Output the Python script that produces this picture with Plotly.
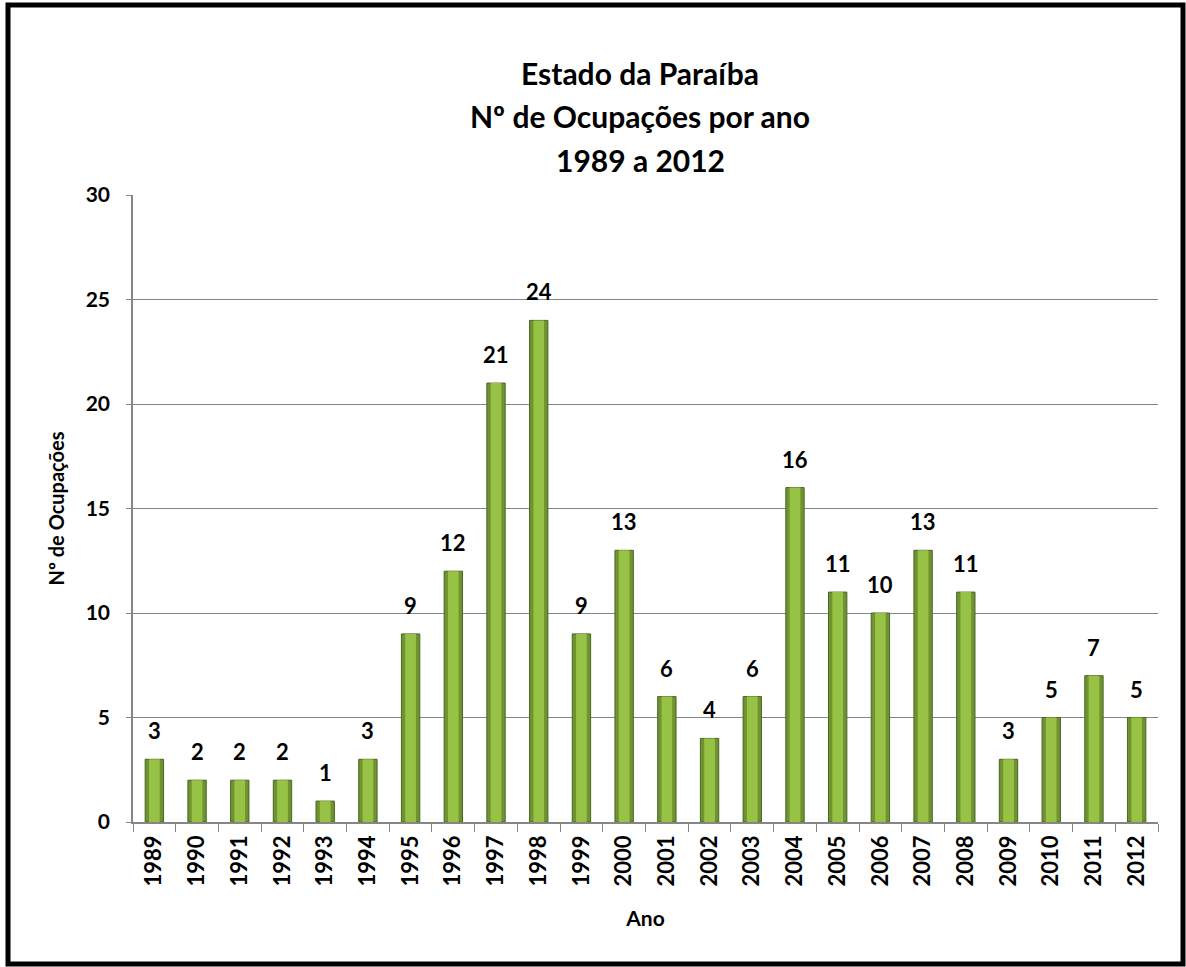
import plotly.graph_objects as go

anos = ["1989","1990","1991","1992","1993","1994","1995","1996","1997","1998","1999","2000",
        "2001","2002","2003","2004","2005","2006","2007","2008","2009","2010","2011","2012"]
ocupacoes = [3,2,2,2,1,3,9,12,21,24,9,13,6,4,6,16,11,10,13,11,3,5,7,5]
titulo = ["Estado da Paraíba", "Nº de Ocupações por ano", "1989 a 2012"]

W, H = 1186, 967
L, R, T, B = 133, 28, 195, 145
pw, ph = W - L - R, H - T - B

def px_x(x):
    return (x - L) / pw

def px_y(y):
    return (H - B - y) / ph

font = "Lato"

fig = go.Figure()
fig.add_trace(go.Bar(
    x=anos, y=ocupacoes, width=0.43,
    marker=dict(color="#6E9430", line=dict(color="#4F6228", width=1)),
    hoverinfo="x+y",
))
fig.add_trace(go.Bar(
    x=anos, y=ocupacoes, width=0.25,
    marker=dict(color="#98C246", line=dict(width=0)),
    hoverinfo="skip",
))

# data labels: category index on the category axis, value on the y axis
for i, v in enumerate(ocupacoes):
    fig.add_annotation(x=i, y=v, xref="x", yref="y", text=str(v), showarrow=False,
                       yanchor="bottom", yshift=13,
                       font=dict(family=font, size=22, color="black", weight="bold"))

fig.update_layout(
    width=W, height=H,
    margin=dict(l=L, r=R, t=T, b=B),
    paper_bgcolor="white", plot_bgcolor="white",
    barmode="overlay",
    showlegend=False,
    xaxis=dict(type="category", range=[-0.5, len(anos) - 0.5],
               showline=True, linecolor="#868686", linewidth=1.5,
               ticks="outside", tickson="boundaries", ticklen=8, tickcolor="#868686",
               tickangle=-90, showgrid=False, ticklabelstandoff=3,
               tickfont=dict(family=font, size=22, color="black", weight="bold"),
               title=dict(text="Ano", standoff=26,
                          font=dict(family=font, size=21, color="black", weight="bold"))),
    yaxis=dict(range=[0, 30], dtick=5, showline=True, linecolor="#868686", linewidth=1.5,
               ticks="outside", ticklen=5, tickcolor="#868686", ticklabelstandoff=12,
               showgrid=True, gridcolor="#868686", gridwidth=1, zeroline=False,
               tickfont=dict(family=font, size=21, color="black", weight="bold"),
               title=dict(text="Nº de Ocupações", standoff=16,
                          font=dict(family=font, size=20, color="black", weight="bold"))),
)

for line, ypx in zip(titulo, [73, 116, 160]):
    fig.add_annotation(text=line, xref="paper", yref="paper", x=px_x(640), y=px_y(ypx),
                       xanchor="center", yanchor="middle", showarrow=False,
                       font=dict(family=font, size=30, color="black", weight="bold"))

fig.add_shape(type="rect", xref="paper", yref="paper",
              x0=px_x(8), x1=px_x(1183), y0=px_y(964), y1=px_y(5),
              line=dict(color="black", width=5), fillcolor="rgba(0,0,0,0)", layer="above")

fig.write_html("out.html", config={"displayModeBar": False},
               post_script="document.body.style.margin='0';document.body.style.overflow='hidden';")
